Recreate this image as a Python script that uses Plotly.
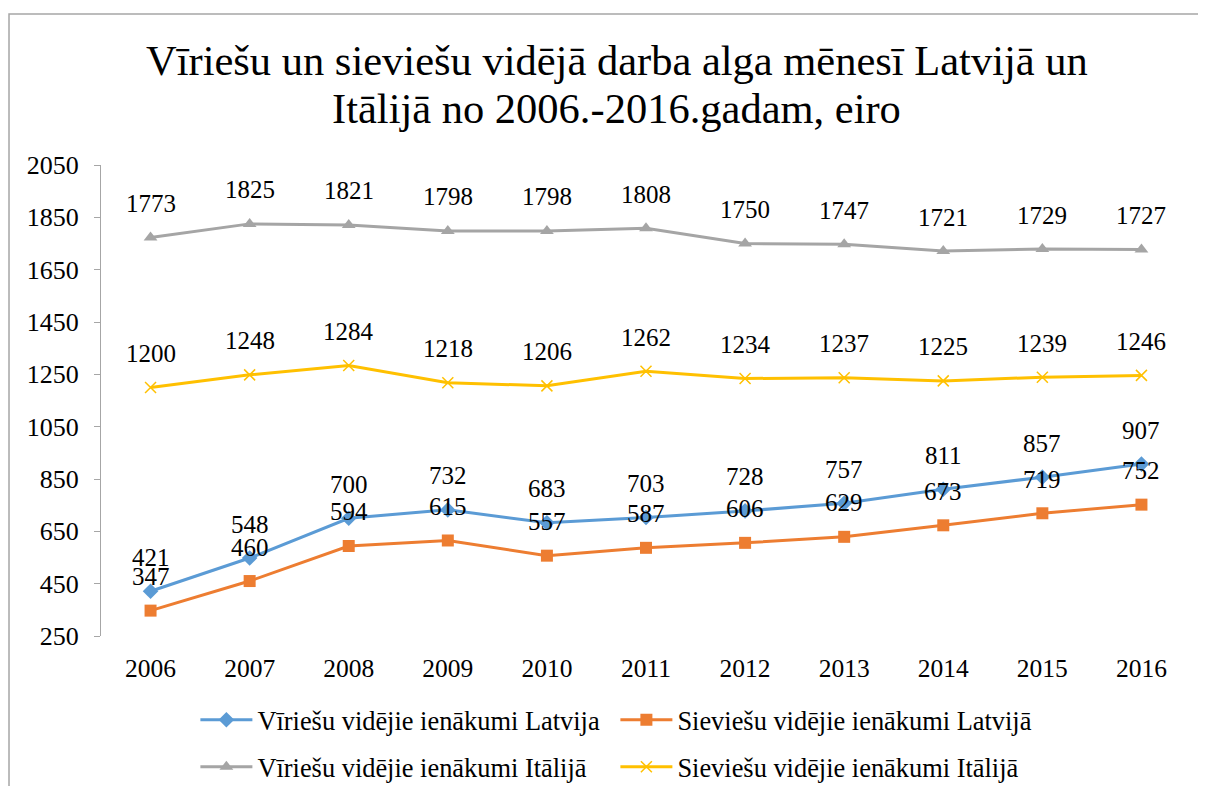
import plotly.graph_objects as go

years = [2006, 2007, 2008, 2009, 2010, 2011, 2012, 2013, 2014, 2015, 2016]
men_lv = [421, 548, 700, 732, 683, 703, 728, 757, 811, 857, 907]
women_lv = [347, 460, 594, 615, 557, 587, 606, 629, 673, 719, 752]
men_it = [1773, 1825, 1821, 1798, 1798, 1808, 1750, 1747, 1721, 1729, 1727]
women_it = [1200, 1248, 1284, 1218, 1206, 1262, 1234, 1237, 1225, 1239, 1246]
names = ["Vīriešu vidējie ienākumi Latvija", "Sieviešu vidējie ienākumi Latvijā",
         "Vīriešu vidējie ienākumi Itālijā", "Sieviešu vidējie ienākumi Itālijā"]
y_ticks = [250, 450, 650, 850, 1050, 1250, 1450, 1650, 1850, 2050]
title_lines = ["Vīriešu un sieviešu vidējā darba alga mēnesī Latvijā un",
               "Itālijā no 2006.-2016.gadam, eiro"]

FONT = "Times New Roman"

series = [
    (names[0], men_lv, "#5B9BD5", dict(symbol="diamond", size=12), "legend"),
    (names[1], women_lv, "#ED7D31", dict(symbol="square", size=12), "legend"),
    (names[2], men_it, "#A5A5A5", dict(symbol="triangle-up", size=12), "legend2"),
    (names[3], women_it, "#FFC000", dict(symbol="x-thin", size=11, line=dict(width=1.5, color="#FFC000")), "legend2"),
]

fig = go.Figure()
annotations = []
for name, vals, color, marker, leg in series:
    fig.add_trace(go.Scatter(
        x=years, y=vals, name=name, mode="lines+markers",
        line=dict(color=color, width=3),
        marker=dict(color=color, **marker),
        legend=leg,
    ))
    for x, v in zip(years, vals):
        annotations.append(dict(x=x, y=v, text=str(v), showarrow=False, yshift=34,
                                font=dict(family=FONT, size=25, color="black")))

for line, ty in zip(title_lines, [1.2229, 1.1189]):
    annotations.append(dict(xref="paper", yref="paper", x=0.473, y=ty, text=line,
                            showarrow=False, xanchor="center", yanchor="middle",
                            font=dict(family=FONT, size=42.5, color="black")))

fig.update_layout(
    width=1190, height=778,
    paper_bgcolor="white", plot_bgcolor="white",
    margin=dict(l=93, r=7, t=157, b=150),
    font=dict(family=FONT, size=25, color="black"),
    xaxis=dict(range=[2005.5, 2016.5], tickmode="array", tickvals=years,
               ticktext=[str(y) for y in years], showgrid=False, zeroline=False,
               showline=False, ticks="", ticklabelstandoff=14,
               tickfont=dict(family=FONT, size=25.5, color="black")),
    yaxis=dict(range=[250, 2050], tickmode="array", tickvals=y_ticks,
               showgrid=False, zeroline=False, showline=True, linecolor="#A6A6A6",
               linewidth=1, ticks="outside", ticklen=6, tickcolor="#A6A6A6",
               ticklabelstandoff=10,
               tickfont=dict(family=FONT, size=26, color="black")),
    legend=dict(orientation="h", x=0.0866, xref="paper", y=0.0848, yref="container",
                xanchor="left", yanchor="middle",
                entrywidth=353, itemwidth=52, font=dict(family=FONT, size=26.4, color="black"),
                bgcolor="rgba(0,0,0,0)"),
    legend2=dict(orientation="h", x=0.0866, xref="paper", y=0.0244, yref="container",
                 xanchor="left", yanchor="middle",
                 entrywidth=353, itemwidth=52, font=dict(family=FONT, size=26.4, color="black"),
                 bgcolor="rgba(0,0,0,0)"),
    annotations=annotations,
    shapes=[dict(type="rect", xref="paper", yref="paper", x0=-0.0844, x1=1.05,
                 y0=-0.5, y1=1.3206, line=dict(color="#A6A6A6", width=1.5),
                 fillcolor="rgba(0,0,0,0)", layer="below")],
)

fig.write_html("out.html")
